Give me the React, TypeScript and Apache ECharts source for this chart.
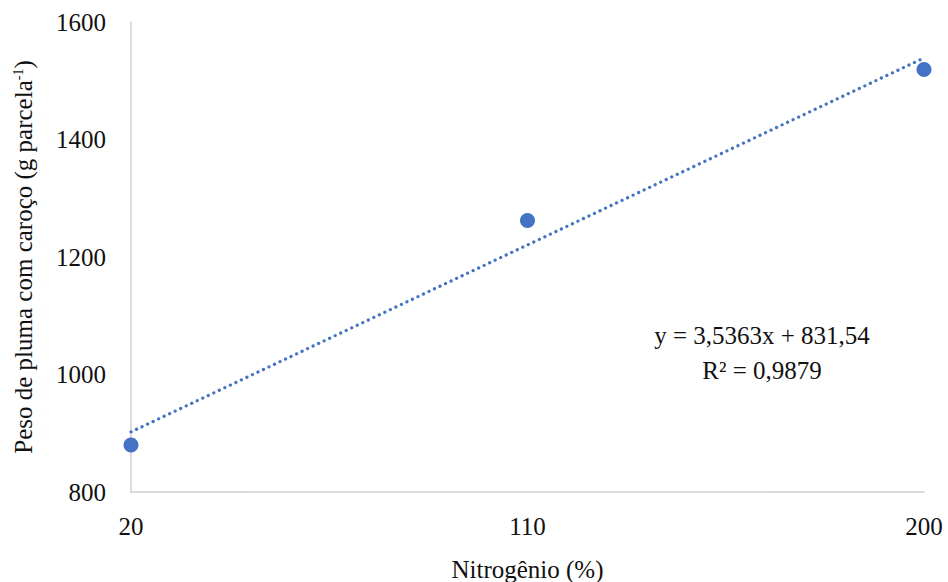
import React, { useEffect, useRef } from "react";
import * as echarts from "echarts";

const xTicks = [20, 110, 200];
const nitrogen = [20, 110, 200];
const weight = [880, 1262, 1519];
const slope = 3.5363;
const intercept = 831.54;
const eqLine1 = "y = 3,5363x + 831,54";
const eqLine2 = "R² = 0,9879";

const FONT = "Liberation Serif, Times New Roman, serif";
const BLUE = "#4472C4";
const TXT = "#111";

export default function App() {
  const ref = useRef<HTMLDivElement>(null);
  useEffect(() => {
    if (!ref.current) return;
    const chart = echarts.init(ref.current, undefined, { renderer: "svg" });
    const trend = [nitrogen[0], nitrogen[nitrogen.length - 1]].map((x) => [x, slope * x + intercept]);
    chart.setOption({
      animation: false,
      backgroundColor: "#fff",
      textStyle: { fontFamily: FONT, color: TXT },
      grid: { left: 131, right: 24, top: 22, bottom: 90, outerBoundsMode: "none", containLabel: false },
      xAxis: {
        type: "value",
        min: 20,
        max: 200,
        name: "Nitrogênio (%)",
        nameLocation: "middle",
        nameGap: 65,
        nameTextStyle: { fontFamily: FONT, fontSize: 25, color: TXT },
        axisLine: { show: true, lineStyle: { color: "#d0d0d0", width: 1.5 } },
        axisTick: { show: false },
        splitLine: { show: false },
        axisLabel: {
          customValues: xTicks,
          fontFamily: FONT,
          fontSize: 25,
          color: TXT,
          margin: 22,
          formatter: (v: number) => String(v),
        },
      },
      yAxis: {
        type: "value",
        min: 800,
        max: 1600,
        interval: 200,
        name: "{n|Peso de pluma com caroço (g parcela}{s|-1}{n|)}",
        nameLocation: "middle",
        nameGap: 95,
        nameTextStyle: {
          fontFamily: FONT,
          fontSize: 25,
          color: TXT,
          rich: {
            n: { fontFamily: FONT, fontSize: 25, color: TXT },
            s: { fontFamily: FONT, fontSize: 14, color: TXT, verticalAlign: "top", padding: [0, 0, 10, 0] },
          },
        },
        axisLine: { show: true, lineStyle: { color: "#d0d0d0", width: 1.5 } },
        axisTick: { show: false },
        splitLine: { show: false },
        axisLabel: { fontFamily: FONT, fontSize: 25, color: TXT, margin: 25, formatter: (v: number) => String(v) },
      },
      series: [
        {
          type: "line",
          data: trend,
          symbol: "none",
          lineStyle: { color: BLUE, width: 3.2, type: [0.1, 6], cap: "round", opacity: 1 },
          z: 2,
        },
        {
          type: "scatter",
          data: nitrogen.map((x, i) => [x, weight[i]]),
          symbol: "circle",
          symbolSize: 15,
          itemStyle: { color: BLUE, opacity: 1 },
          z: 3,
        },
      ],
      graphic: [
        {
          type: "text",
          x: 762,
          y: 323,
          style: { text: eqLine1, fontFamily: FONT, fontSize: 25, fill: TXT, textAlign: "center" },
        },
        {
          type: "text",
          x: 762,
          y: 358,
          style: { text: eqLine2, fontFamily: FONT, fontSize: 25, fill: TXT, textAlign: "center" },
        },
      ],
    });
    return () => chart.dispose();
  }, []);
  return <div ref={ref} style={{ width: 948, height: 582, position: "absolute", left: 0, top: 0 }} />;
}
